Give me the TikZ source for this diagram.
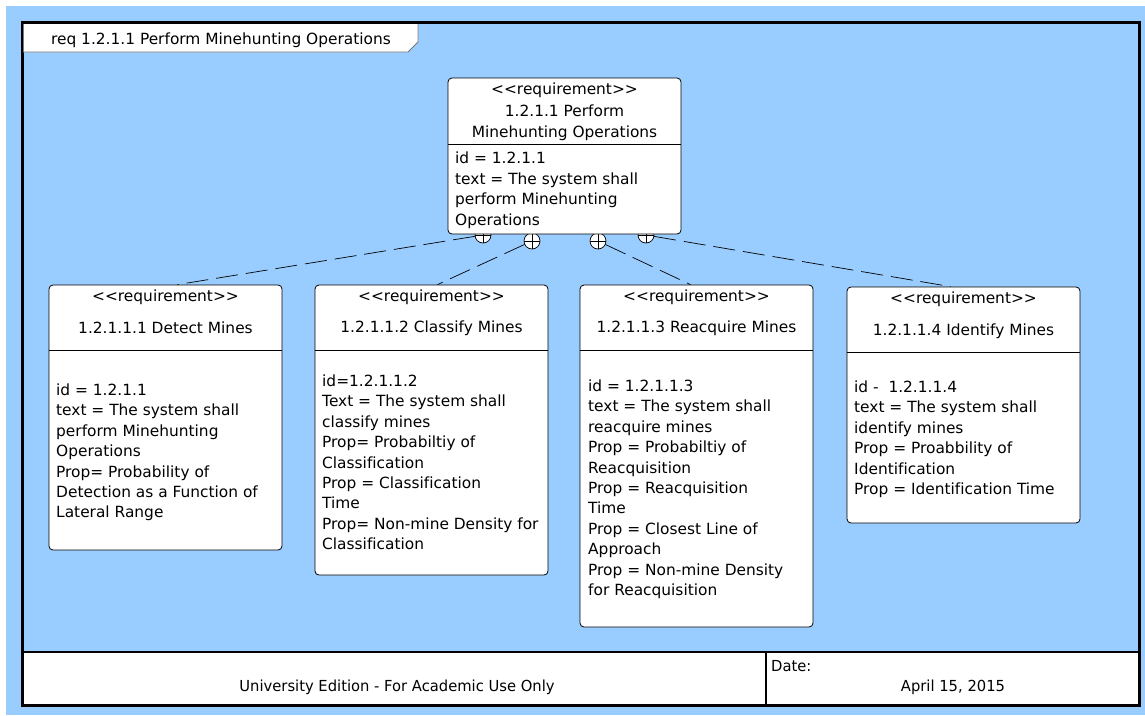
\documentclass[tikz,border=0pt]{standalone}
\usepackage{fontspec}
\setmainfont{DejaVu Sans}[Ligatures=NoCommon]
\newfontfamily\condfont[FakeStretch=0.97]{DejaVu Sans}
\definecolor{bgblue}{RGB}{153,204,255}
\definecolor{tabgray}{RGB}{120,120,120}
\newcommand{\stereo}{<{}<requirement>{}>}
\begin{document}
\begin{tikzpicture}[x=1pt,y=-1pt,
  reqbox/.style={draw=black, fill=white, rounded corners=4pt, line width=0.8pt, minimum width=233, inner sep=0pt},
  bodytext/.style={anchor=north west, inner sep=0pt, align=left, font=\fontsize{15.4}{20.4}\selectfont},
  headtext/.style={anchor=center, inner sep=0pt, align=center, font=\fontsize{15.4}{20.6}\selectfont},
  contain/.style={circle, draw=black, fill=white, line width=0.7pt, minimum size=16pt, inner sep=0pt,
    path picture={\draw[line width=0.7pt] (path picture bounding box.north) -- (path picture bounding box.south)
      (path picture bounding box.west) -- (path picture bounding box.east);}},
  dep/.style={draw=black, line width=0.7pt, dash pattern=on 22pt off 8pt},
  foot/.style={inner sep=0pt, font=\condfont\fontsize{15.2}{17}\selectfont}]
\useasboundingbox (0,0) rectangle (1145,715);
\fill[white] (0,0) rectangle (1145,715);
\fill[bgblue] (6,6) rectangle (1145,715);
% frame
\fill[white] (22,652) rectangle (1139,705);
\draw[line width=3pt] (22,22) rectangle (1139,705);
\draw[line width=2pt] (22,652) -- (1139,652);
\draw[line width=2pt] (766,652) -- (766,705);
\node[foot, anchor=center] (edition) at (397,687) {University Edition - For Academic Use Only};
\node[foot, anchor=west] (datelbl) at (771,666) {Date:};
\node[foot, anchor=center] (date) at (953,687) {April 15, 2015};
% title tab
\draw[fill=white, draw=tabgray, line width=0.8pt] (23.5,23.5) -- (418,23.5) -- (418,42) -- (408,52) -- (23.5,52) -- cycle;
\draw[line width=3pt] (22,22) -- (1139,22);
\node[headtext, font=\fontsize{15.4}{17}\selectfont] (title) at (221,40) {req 1.2.1.1 Perform Minehunting Operations};
% child boxes
\node[reqbox, minimum height=265] (b1) at (165.5,417.5) {};
\node[reqbox, minimum height=290] (b2) at (431.5,430) {};
\node[reqbox, minimum height=342] (b3) at (696.5,456) {};
\node[reqbox, minimum height=236] (b4) at (963.5,405) {};
\draw[line width=0.8pt] (b1.west |- 0,350) -- (b1.east |- 0,350);
\draw[line width=0.8pt] (b2.west |- 0,350) -- (b2.east |- 0,350);
\draw[line width=0.8pt] (b3.west |- 0,350) -- (b3.east |- 0,350);
\draw[line width=0.8pt] (b4.west |- 0,352) -- (b4.east |- 0,352);
\node[headtext] (s1) at (165.5,297) {\stereo};
\node[headtext] (n1) at (165.5,328) {1.2.1.1.1 Detect Mines};
\node[headtext] (s2) at (431.5,297) {\stereo};
\node[headtext] (n2) at (431.5,328) {1.2.1.1.2 Classify Mines};
\node[headtext] (s3) at (696.5,297) {\stereo};
\node[headtext] (n3) at (696.5,328) {1.2.1.1.3 Reacquire Mines};
\node[headtext] (s4) at (963.5,299) {\stereo};
\node[headtext] (n4) at (963.5,331) {1.2.1.1.4 Identify Mines};
\node[bodytext] (t1) at (56,383.5) {id = 1.2.1.1\\text = The system shall\\perform Minehunting\\Operations\\Prop= Probability of\\Detection as a Function of\\Lateral Range};
\node[bodytext] (t2) at (322,374.5) {id=1.2.1.1.2\\Text = The system shall\\classify mines\\Prop= Probabiltiy of\\Classification\\Prop = Classification\\Time\\Prop= Non-mine Density for\\Classification};
\node[bodytext] (t3) at (588,379.5) {id = 1.2.1.1.3\\text = The system shall\\reacquire mines\\Prop = Probabiltiy of\\Reacquisition\\Prop = Reacquisition\\Time\\Prop = Closest Line of\\Approach\\Prop = Non-mine Density\\for Reacquisition};
\node[bodytext] (t4) at (854,380.5) {id -\ \ 1.2.1.1.4\\text = The system shall\\identify mines\\Prop = Proabbility of\\Identification\\Prop = Identification Time};
% containment
\node[contain] (c1) at (483,235) {};
\node[contain] (c2) at (532,241) {};
\node[contain] (c3) at (598,241) {};
\node[contain] (c4) at (646,235) {};
\draw[dep] (c1) -- ([xshift=12pt]b1.north);
\draw[dep] (c2) -- ([xshift=6pt]b2.north);
\draw[dep] (c3) -- ([xshift=-6pt]b3.north);
\draw[dep] (c4) -- ([xshift=-13pt]b4.north);
% top box
\node[reqbox, minimum height=156] (top) at (564.5,156) {};
\draw[line width=0.8pt] (top.west |- 0,144) -- (top.east |- 0,144);
\node[headtext] (s0) at (564.5,90) {\stereo};
\node[headtext] (n0) at (564.5,122.5) {1.2.1.1 Perform\\Minehunting Operations};
\node[bodytext] (t0) at (455,152) {id = 1.2.1.1\\text = The system shall\\perform Minehunting\\Operations};
\end{tikzpicture}
\end{document}
